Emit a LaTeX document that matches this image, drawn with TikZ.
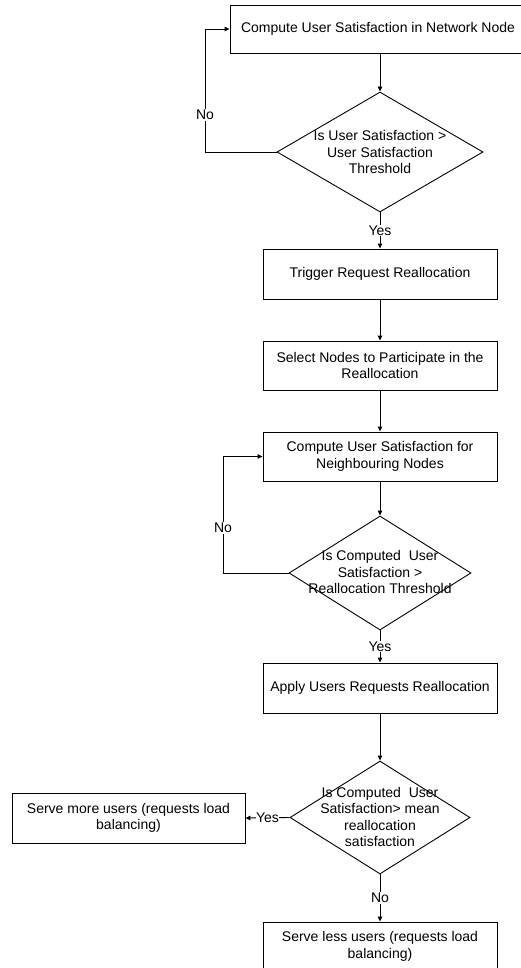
\documentclass[tikz,border=0pt]{standalone}
\usepackage{fontspec}
\setmainfont{Liberation Sans}
\usetikzlibrary{shapes.geometric,arrows.meta}
\begin{document}
\begin{tikzpicture}[x=1pt,y=-1pt,
  every node/.style={font=\fontsize{14pt}{16.5pt}\selectfont},
  procbox/.style={draw,rectangle,align=center,minimum width=234pt,minimum height=49pt,inner sep=0pt,line width=0.9pt},
  decision/.style={draw,diamond,inner sep=0pt,line width=0.9pt},
  dtext/.style={align=center,inner sep=0pt},
  arr/.style={line width=0.9pt,-{Triangle[length=5pt,width=4.5pt]}},
  lbl/.style={fill=white,inner sep=1pt}]
\useasboundingbox (0,0) rectangle (521,968);
\clip (0,0) rectangle (521,968);

\node[procbox,minimum width=296pt,minimum height=48pt] (b1) at (378,29) {Compute User Satisfaction in Network Node};
\node[decision,minimum width=206pt,minimum height=120pt] (d1) at (380,152) {};
\node[dtext] (d1t) at (380,152) {Is User Satisfaction >\\User Satisfaction\\Threshold};
\node[procbox,minimum height=50pt] (b2) at (380,274) {Trigger Request Reallocation};
\node[procbox] (b3) at (380,365.5) {Select Nodes to Participate in the\\Reallocation};
\node[procbox] (b4) at (380,456.5) {Compute User Satisfaction for\\Neighbouring Nodes};
\node[decision,minimum width=182pt,minimum height=114pt] (d2) at (380,573) {};
\node[dtext] (d2t) at (380,572) {Is Computed\ \ User\\Satisfaction >\\Reallocation Threshold};
\node[procbox,minimum height=50pt] (b5) at (380,688) {Apply Users Requests Reallocation};
\node[decision,minimum width=180pt,minimum height=113pt] (d3) at (380,817.5) {};
\node[dtext] (d3t) at (380,817) {Is Computed\ \ User\\Satisfaction> mean\\reallocation\\satisfaction};
\node[procbox,minimum width=233pt,minimum height=50pt] (b6) at (128.5,818) {Serve more users (requests load\\balancing)};
\node[procbox] (b7) at (380,946.5) {Serve less users (requests load\\balancing)};

\coordinate (c1) at (205,152);
\coordinate (c2) at (223,573);

\draw[arr] (b1.south -| d1.north) -- (d1.north);
\draw[line width=0.9pt] (d1.west) -- (c1) -- (c1 |- b1.west);
\draw[arr] (c1 |- b1.west) -- (b1.west);
\node[lbl] (no1) at (205,115) {No};
\draw[arr] (d1.south) -- node[lbl] (yes1) {Yes} (b2.north);
\draw[arr] (b2.south) -- (b3.north);
\draw[arr] (b3.south) -- (b4.north);
\draw[arr] (b4.south) -- (d2.north);
\draw[line width=0.9pt] (d2.west) -- (c2) -- (c2 |- b4.west);
\draw[arr] (c2 |- b4.west) -- (b4.west);
\node[lbl] (no2) at (223,528) {No};
\draw[arr] (d2.south) -- node[lbl] (yes2) {Yes} (b5.north);
\draw[arr] (b5.south) -- (d3.north);
\draw[arr] (d3.west) -- node[lbl,inner sep=0.5pt] (yes3) {Yes} (b6.east);
\draw[arr] (d3.south) -- node[lbl] (no3) {No} (b7.north);
\end{tikzpicture}
\end{document}
